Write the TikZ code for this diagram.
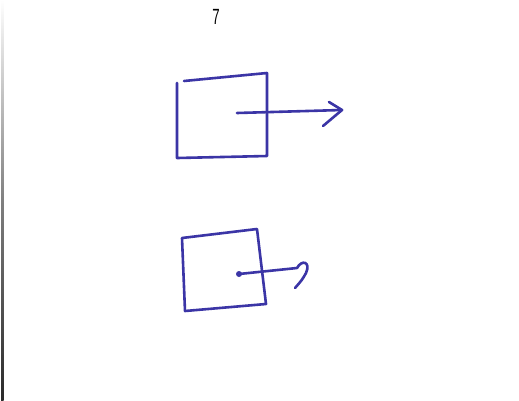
\documentclass[tikz,border=0pt]{standalone}
\usepackage{fontspec}
\setmainfont{Liberation Sans}
\usepackage{xcolor}
\usepackage{tikz}
\usetikzlibrary{arrows.meta,calc}
\definecolor{ink}{HTML}{3B35A6}
\definecolor{edge}{HTML}{2A2A2A}

\begin{document}
\begin{tikzpicture}[x=1pt,y=-1pt,
    pen/.style={draw=ink, line width=2.6pt, line join=round, line cap=round},
    mark7/.style={font=\fontsize{22}{22}\selectfont, text=black, inner sep=0pt}]
  \useasboundingbox (0,0) rectangle (519,400);
  \fill[white] (0,0) rectangle (519,400);
  % page edge on the left
  \shade[top color=white, bottom color=edge, middle color=gray] (1,0) rectangle (3.5,400);

  \node[mark7] (num) at (216,17) {\scalebox{0.6}[1]{7}};

  % upper box
  \coordinate (a1) at (177,83);
  \coordinate (a2) at (184,81);
  \coordinate (a3) at (267,73);
  \coordinate (a4) at (267,156);
  \coordinate (a5) at (177,158);
  \draw[pen] (a1) -- (a5) -- (a4) -- (a3) -- (a2);
  \coordinate (p1) at (237,113);
  \coordinate (q1) at (342,110);
  \draw[pen] (p1) -- (q1);
  \draw[pen] (329,102) -- (q1) -- (323,126);

  % lower box
  \coordinate (b1) at (182,238);
  \coordinate (b2) at (257,229);
  \coordinate (b3) at (266,304);
  \coordinate (b4) at (185,311);
  \draw[pen] (b1) -- (b2) -- (b3) -- (b4) -- cycle;
  \coordinate (p2) at (239,274);
  \coordinate (q2) at (295,288);
  \fill[ink] (p2) circle (3pt);
  \draw[pen] (p2) -- (297,268) .. controls (302,259) and (311,262) .. (306,273)
    .. controls (302,280) .. (q2);
\end{tikzpicture}
\end{document}
